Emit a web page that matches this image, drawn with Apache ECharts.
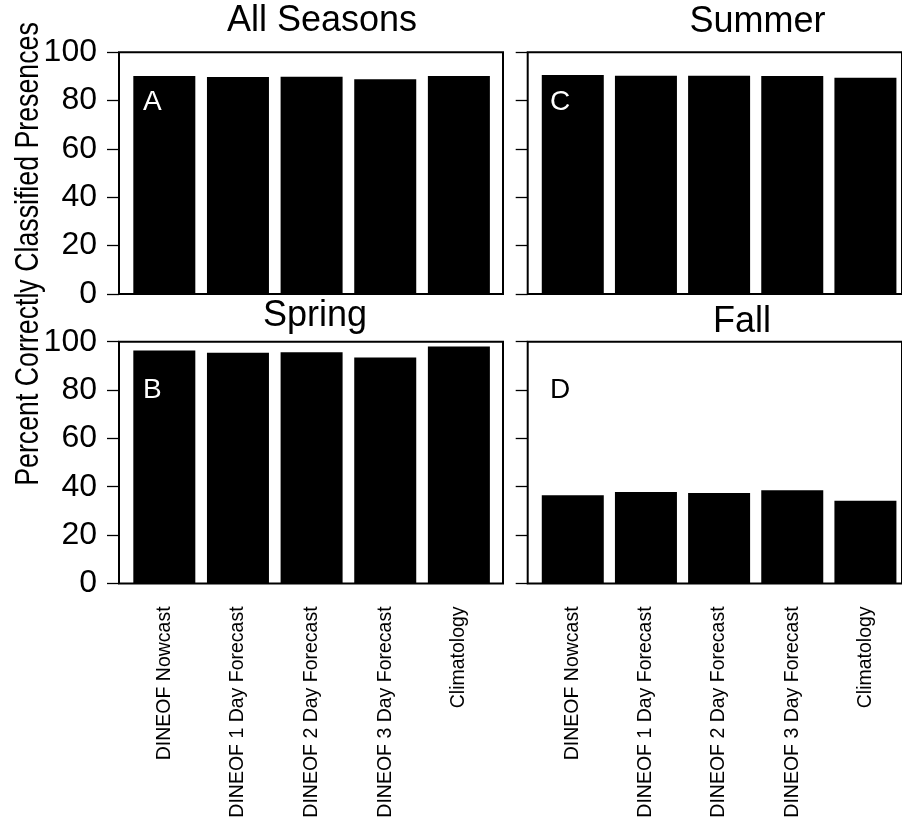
<!DOCTYPE html>
<html>
<head>
<meta charset="utf-8">
<script src="https://cdn.jsdelivr.net/npm/echarts@6/dist/echarts.min.js"></script>
<style>
  html, body { margin: 0; padding: 0; background: #fff; }
  #chart { width: 902px; height: 824px; }
</style>
</head>
<body>
<div id="chart"></div>
<script>
var categories = ['DINEOF Nowcast', 'DINEOF 1 Day Forecast', 'DINEOF 2 Day Forecast', 'DINEOF 3 Day Forecast', 'Climatology'];
var allSeasons = [90.2, 89.8, 89.9, 88.8, 90.2];
var summer = [90.6, 90.3, 90.3, 90.2, 89.5];
var spring = [96.4, 95.4, 95.6, 93.5, 98.0];
var fall = [36.5, 37.8, 37.4, 38.5, 34.2];
var yMin = 0, yMax = 100, yStep = 20;
var panelTitles = ['All Seasons', 'Summer', 'Spring', 'Fall'];
var panelLetters = ['A', 'C', 'B', 'D'];
var yAxisTitle = 'Percent Correctly Classified Presences';

var FONT = '"Liberation Sans", Arial, Helvetica, sans-serif';
var chart = echarts.init(document.getElementById('chart'), null, {renderer: 'canvas'});

// panel layout: [boxLeft, boxTop]
var panels = [
  {box: [119, 52.3], data: allSeasons, yLabels: true, xLabels: false, title: [322, 3.5], letter: [143, 88, '#fff']},
  {box: [527.7, 52.3], data: summer, yLabels: false, xLabels: false, title: [757.5, 4], letter: [550, 88, '#fff']},
  {box: [119, 341.7], data: spring, yLabels: true, xLabels: true, title: [315, 298], letter: [143, 376, '#fff']},
  {box: [527.7, 341.7], data: fall, yLabels: false, xLabels: true, title: [742, 304], letter: [550, 376, '#000']}
];
var BOXW = 384, BOXH = 241.7, BARSOFF = 8.5, BARSW = 368.2;

var grids = [], xAxes = [], yAxes = [], series = [], titles = [], graphics = [];
panels.forEach(function (p, i) {
  var gBox = grids.length;
  grids.push({left: p.box[0], top: p.box[1], width: BOXW, height: BOXH, show: true,
    borderColor: '#000', borderWidth: 2, backgroundColor: 'transparent', containLabel: false});
  grids.push({left: p.box[0] + BARSOFF, top: p.box[1], width: BARSW, height: BOXH, containLabel: false});
  // box grid axes
  xAxes.push({type: 'value', gridIndex: gBox, min: 0, max: 1, show: false});
  yAxes.push({type: 'value', gridIndex: gBox, min: yMin, max: yMax, interval: yStep,
    axisLine: {show: false},
    axisTick: {show: true, inside: false, length: 12, lineStyle: {color: '#000', width: 1.3}},
    splitLine: {show: false},
    axisLabel: {show: p.yLabels, margin: 22, color: '#000', fontSize: 32, fontFamily: FONT}
  });
  // bars grid axes
  xAxes.push({type: 'category', gridIndex: gBox + 1, data: categories, boundaryGap: true,
    axisLine: {show: false}, axisTick: {show: false}, splitLine: {show: false},
    axisLabel: {show: p.xLabels, rotate: 90, margin: 23, color: '#000', fontSize: 19.5, fontFamily: FONT, interval: 0}
  });
  yAxes.push({type: 'value', gridIndex: gBox + 1, min: yMin, max: yMax, interval: yStep, show: false});
  series.push({type: 'bar', xAxisIndex: gBox + 1, yAxisIndex: gBox + 1, data: p.data,
    barWidth: 62, itemStyle: {color: '#000'}, silent: true});
  titles.push({text: panelTitles[i], left: p.title[0], top: p.title[1], textAlign: 'center', padding: 0,
    textStyle: {fontSize: 36, fontWeight: 'normal', color: '#000', fontFamily: FONT}});
  graphics.push({type: 'text', x: p.letter[0], y: p.letter[1], z: 100,
    style: {text: panelLetters[i], fill: p.letter[2], font: '28px ' + FONT, textAlign: 'left', textVerticalAlign: 'top'}});
});

graphics.push({type: 'text', x: 29, y: 254, rotation: Math.PI / 2, scaleX: 0.81, scaleY: 1, z: 100,
  style: {text: yAxisTitle, fill: '#000', font: '33px ' + FONT, textAlign: 'center', textVerticalAlign: 'middle'}});

chart.setOption({
  animation: false,
  backgroundColor: '#fff',
  title: titles,
  grid: grids,
  xAxis: xAxes,
  yAxis: yAxes,
  series: series,
  graphic: graphics
});
</script>
</body>
</html>
